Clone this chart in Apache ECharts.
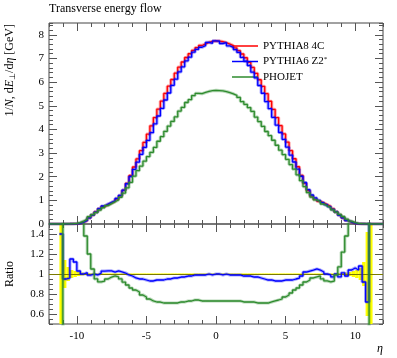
<!DOCTYPE html>
<html><head><meta charset="utf-8">
<script src="https://cdn.jsdelivr.net/npm/echarts@6/dist/echarts.min.js"></script>
<style>html,body{margin:0;padding:0;background:#fff}#c{width:397px;height:358px}</style>
</head><body><div id="c"></div>
<script>
// eta binning: 96 bins of width 0.25 from -12 to 12
const etaStart = -12, etaBin = 0.25;
const xTickMajor = [-10, -5, 0, 5, 10];
const yTickTop = [0,1,2,3,4,5,6,7,8];
const yTickRatio = [0.6, 0.8, 1, 1.2, 1.4];
const legendNames = ['PYTHIA8 4C', 'PYTHIA6 Z2*', 'PHOJET'];

// PYTHIA8 4C (red)
const pythia8 = [
 0,0,0,0.0004,0.001,0.002,0.004,0.01,0.03,0.08,0.15,0.26,0.38,0.51,0.64,0.74,
 0.82,0.89,0.96,1.05,1.19,1.42,1.72,2.05,2.41,2.75,3.1,3.45,3.8,4.15,4.5,4.86,
 5.2,5.52,5.83,6.11,6.38,6.63,6.85,7.04,7.2,7.34,7.46,7.55,7.62,7.68,7.72,7.74,
 7.73,7.71,7.67,7.61,7.54,7.45,7.33,7.19,7.03,6.84,6.62,6.37,6.1,5.82,5.51,5.19,
 4.85,4.5,4.16,3.81,3.46,3.1,2.76,2.42,2.06,1.72,1.41,1.18,1.05,0.96,0.89,0.82,
 0.74,0.64,0.51,0.38,0.26,0.15,0.08,0.03,0.01,0.004,0.002,0.001,0.0004,0,0,0
];
// PYTHIA6 Z2* (blue)
const pythia6 = [
 0,0,0,0.00056,0.00095,0.00192,0.0046,0.0112,0.0309,0.08,0.152,0.257,0.38,0.505,0.646,0.762,
 0.845,0.917,0.979,1.082,1.214,1.434,1.703,2.009,2.314,2.613,2.945,3.243,3.534,3.86,4.23,4.568,
 4.888,5.244,5.539,5.866,6.125,6.431,6.645,6.899,7.056,7.267,7.385,7.475,7.544,7.68,7.643,7.74,
 7.73,7.633,7.67,7.534,7.465,7.376,7.257,7.046,6.889,6.703,6.421,6.179,5.856,5.529,5.179,4.879,
 4.511,4.185,3.869,3.581,3.252,2.914,2.622,2.323,2.019,1.754,1.452,1.227,1.103,0.998,0.908,0.82,
 0.733,0.621,0.51,0.369,0.263,0.147,0.0832,0.0318,0.0104,0.00432,0.00184,0.00072,0.00076,0,0,0
];
// PHOJET (green)
const phojet = [
 0,0,0,0.00012,0.004,0.008,0.014,0.03,0.06,0.124,0.207,0.312,0.399,0.485,0.589,0.688,
 0.779,0.863,0.941,1.019,1.131,1.306,1.531,1.763,2.024,2.255,2.449,2.657,2.85,3.03,3.24,3.499,
 3.692,3.919,4.139,4.338,4.53,4.774,4.932,5.139,5.256,5.432,5.52,5.512,5.563,5.606,5.636,5.65,
 5.643,5.628,5.599,5.555,5.504,5.439,5.351,5.177,5.062,4.925,4.766,4.523,4.331,4.132,3.912,3.737,
 3.541,3.33,3.12,2.934,2.733,2.511,2.318,2.081,1.833,1.582,1.325,1.133,1.019,0.941,0.846,0.763,
 0.681,0.595,0.505,0.407,0.317,0.207,0.122,0.06,0.03,0.014,0.008,0.004,0.00012,0,0,0
];
// relative uncertainty of the reference (yellow band)
const refRelErr = [
 null,null,null,0.5,0.14,0.07,0.04,0.03,0.02,0.015,0.01,0.008,0.007,0.006,0.006,0.006,
 0.006,0.006,0.006,0.006,0.006,0.006,0.006,0.006,0.006,0.006,0.006,0.006,0.006,0.006,0.006,0.006,
 0.006,0.006,0.006,0.006,0.006,0.006,0.006,0.006,0.006,0.006,0.006,0.006,0.006,0.006,0.006,0.006,
 0.006,0.006,0.006,0.006,0.006,0.006,0.006,0.006,0.006,0.006,0.006,0.006,0.006,0.006,0.006,0.006,
 0.006,0.006,0.006,0.006,0.006,0.006,0.006,0.006,0.006,0.006,0.006,0.006,0.006,0.006,0.006,0.006,
 0.006,0.006,0.007,0.008,0.01,0.015,0.02,0.03,0.04,0.06,0.12,0.42,0.5,null,null,null
];

const edges = pythia8.map((_, i) => etaStart + i * etaBin);
function stepData(vals) {
  const out = [];
  vals.forEach((v, i) => {
    const lo = edges[i], hi = edges[i] + etaBin;
    if (v == null || !isFinite(v)) { out.push([lo, '-']); return; }
    out.push([lo, v]); out.push([hi, v]);
  });
  return out;
}
const ratio = (s) => s.map((v, i) => pythia8[i] > 0 ? v / pythia8[i] : null);

const RED = '#ff0000', BLUE = '#0000ff', GREEN = '#2e8b2e';
const FONT = 'Liberation Serif';
const tickCol = '#555';

function xAx(grid, pos, major, labels) {
  const a = {type: 'value', gridIndex: grid, position: pos, min: -12, max: 12,
    splitLine: {show: false}, axisLine: {show: false, onZero: false},
    axisLabel: {show: false}, axisTick: {show: true, inside: true, length: major ? 8 : 4, lineStyle: {color: tickCol}}};
  if (major) {
    a.axisTick.customValues = xTickMajor;
    if (labels) a.axisLabel = {show: true, customValues: xTickMajor, fontFamily: FONT, fontSize: 11, color: '#000', margin: 7};
  } else { a.interval = 1; }
  return a;
}
function yAx(grid, pos, min, max, major, minorInterval, labels, vals) {
  const a = {type: 'value', gridIndex: grid, position: pos, min: min, max: max,
    splitLine: {show: false}, axisLine: {show: false, onZero: false},
    axisLabel: {show: false}, axisTick: {show: true, inside: true, length: major ? 8 : 4, lineStyle: {color: tickCol}}};
  if (major) {
    a.axisTick.customValues = vals;
    if (labels) a.axisLabel = {show: true, customValues: vals, fontFamily: FONT, fontSize: 11, color: '#000', margin: 5};
  } else { a.interval = minorInterval; }
  return a;
}

const xAxes = [
  xAx(0,'bottom',true,false), xAx(0,'bottom',false), xAx(0,'top',true,false), xAx(0,'top',false),
  xAx(1,'bottom',true,true), xAx(1,'bottom',false), xAx(1,'top',true,false), xAx(1,'top',false)
];
xAxes[0].axisLine = {show: true, onZero: false, lineStyle: {color: '#777', width: 2}};
const yAxes = [
  yAx(0,'left',0,8.5,true,null,true,yTickTop), yAx(0,'left',0,8.5,false,0.2),
  yAx(0,'right',0,8.5,true,null,false,yTickTop), yAx(0,'right',0,8.5,false,0.2),
  yAx(1,'left',0.5,1.5,true,null,true,yTickRatio), yAx(1,'left',0.5,1.5,false,0.05),
  yAx(1,'right',0.5,1.5,true,null,false,yTickRatio), yAx(1,'right',0.5,1.5,false,0.05)
];

function lineSeries(name, data, color, width, opacity, xi, yi, z) {
  return {name: name, type: 'line', xAxisIndex: xi, yAxisIndex: yi, data: data, symbol: 'none',
    showSymbol: false, connectNulls: false, clip: true, animation: false, z: z,
    color: color, lineStyle: {color: color, width: width, opacity: opacity}};
}

const bandData = refRelErr.map((e, i) => e == null ? null : [edges[i], edges[i] + etaBin, 1 - e, 1 + e]).filter(d => d);

const series = [
  lineSeries('r8band', stepData(pythia8), RED, 3.2, 0.35, 0, 0, 2),
  lineSeries('PYTHIA8 4C', stepData(pythia8), RED, 1.3, 1, 0, 0, 3),
  lineSeries('r6band', stepData(pythia6), BLUE, 3.2, 0.35, 0, 0, 4),
  lineSeries('PYTHIA6 Z2*', stepData(pythia6), BLUE, 1.3, 1, 0, 0, 5),
  lineSeries('phband', stepData(phojet), GREEN, 3.2, 0.35, 0, 0, 6),
  lineSeries('PHOJET', stepData(phojet), GREEN, 1.3, 1, 0, 0, 7),
  {type: 'custom', name: 'refband', xAxisIndex: 4, yAxisIndex: 4, data: bandData, clip: true, z: 2,
    encode: {x: [0, 1], y: [2, 3]},
    renderItem: function (params, api) {
      const y0 = Math.max(api.value(2), 0.5), y1 = Math.min(api.value(3), 1.5);
      const p0 = api.coord([api.value(0), y1]), p1 = api.coord([api.value(1), y0]);
      return {type: 'rect', shape: {x: p0[0], y: p0[1], width: p1[0] - p0[0], height: p1[1] - p0[1]},
        style: {fill: '#ffff00'}};
    },
    markLine: {silent: true, symbol: 'none', label: {show: false}, animation: false,
      lineStyle: {color: '#7a7a00', width: 1, type: 'solid'}, data: [{yAxis: 1}]}
  },
  lineSeries('r6rband', stepData(ratio(pythia6)), BLUE, 3.2, 0.35, 4, 4, 4),
  lineSeries('r6r', stepData(ratio(pythia6)), BLUE, 1.3, 1, 4, 4, 5),
  lineSeries('phrband', stepData(ratio(phojet)), GREEN, 3.2, 0.35, 4, 4, 6),
  lineSeries('phr', stepData(ratio(phojet)), GREEN, 1.3, 1, 4, 4, 7)
];

const chart = echarts.init(document.getElementById('c'), null, {renderer: 'canvas'});
chart.setOption({
  animation: false,
  backgroundColor: '#fff',
  grid: [
    {left: 49, right: 14, top: 23, height: 201, show: true, borderColor: '#444', borderWidth: 1, backgroundColor: 'transparent'},
    {left: 49, right: 14, top: 224, height: 100, show: true, borderColor: '#444', borderWidth: 1, backgroundColor: 'transparent'}
  ],
  xAxis: xAxes,
  yAxis: yAxes,
  legend: {
    data: legendNames.map(n => ({name: n, icon: 'rect'})), orient: 'vertical', left: 227, top: 35,
    itemWidth: 26, itemHeight: 1.5, itemGap: 3.5, selectedMode: false,
    textStyle: {fontFamily: FONT, fontSize: 11, color: '#000', lineHeight: 12,
      rich: {s: {fontFamily: FONT, fontSize: 7, verticalAlign: 'top', padding: [0,0,6,0]}}},
    formatter: function (n) { return n === 'PYTHIA6 Z2*' ? 'PYTHIA6 Z2{s|*}' : n; }
  },
  graphic: [
    {type: 'text', left: 49, top: 3, style: {text: 'Transverse energy flow', font: '12px "Liberation Serif"', fill: '#000'}},
    {type: 'text', x: 10, y: 24, rotation: Math.PI / 2,
      style: {text: '1/{i|N}, d{i|E}{s|⊥}/d{i|η} [GeV]', font: '12px "Liberation Serif"', fill: '#000',
        align: 'right', verticalAlign: 'middle',
        rich: {i: {fontFamily: FONT, fontStyle: 'italic', fontSize: 12}, s: {fontFamily: FONT, fontSize: 8, padding: [6,0,0,0]}}}},
    {type: 'text', x: 10, y: 274, rotation: Math.PI / 2,
      style: {text: 'Ratio', font: '12px "Liberation Serif"', fill: '#000', align: 'center', verticalAlign: 'middle'}},
    {type: 'text', x: 380, y: 349, style: {text: 'η', font: 'italic 12px "Liberation Serif"', fill: '#000', align: 'center', verticalAlign: 'middle'}}
  ],
  series: series
});
</script></body></html>
